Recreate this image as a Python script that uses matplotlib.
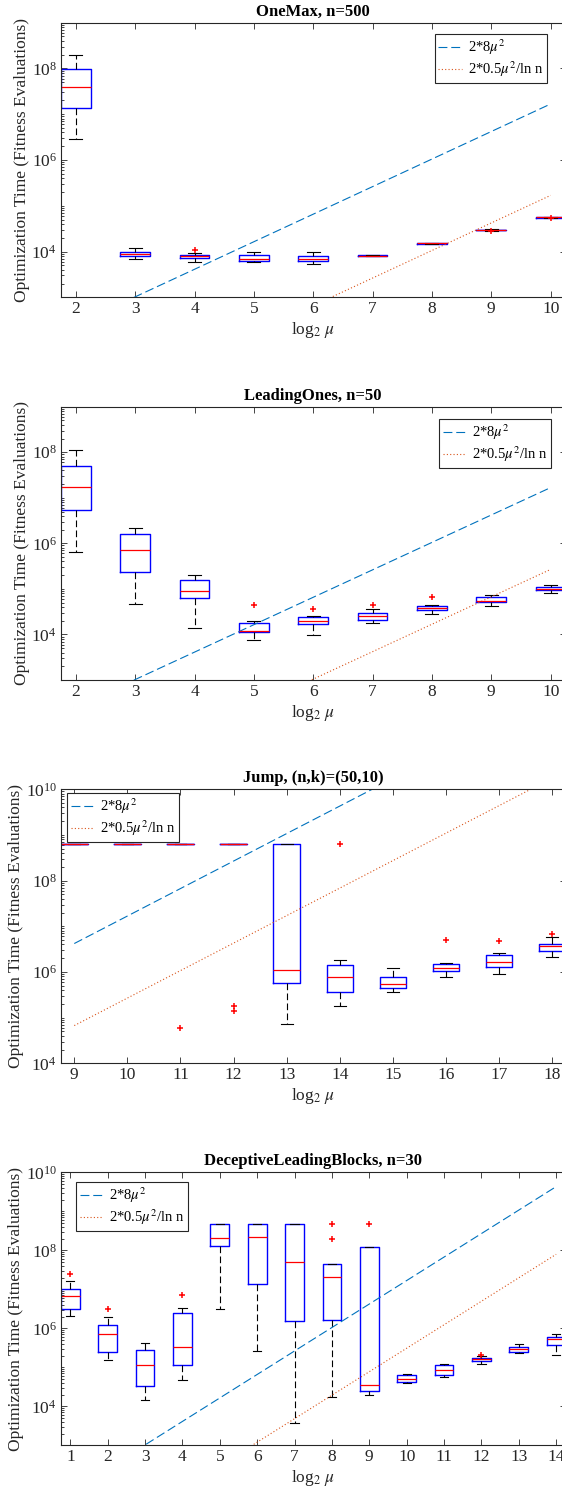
import matplotlib
matplotlib.use("Agg")
import matplotlib.pyplot as plt
from matplotlib.ticker import FixedLocator, LogLocator, NullFormatter

plt.rcParams['font.family'] = ['Liberation Serif', 'DejaVu Serif']
plt.rcParams['mathtext.fontset'] = 'stix'

# ---------------- OneMax, n=500 ----------------
om_x = [2, 3, 4, 5, 6, 7, 8, 9, 10]
om_lo = [2.9e6, 6.9e3, 5.8e3, 6.0e3, 5.4e3, 7.8e3, 1.45e4, 2.85e4, 5.45e4]
om_q1 = [1.37e7, 8.0e3, 7.1e3, 6.2e3, 6.3e3, 7.9e3, 1.48e4, 2.9e4, 5.5e4]
om_med = [4.0e7, 8.9e3, 7.8e3, 6.8e3, 7.0e3, 8.0e3, 1.5e4, 2.95e4, 5.6e4]
om_q3 = [9.7e7, 1.0e4, 8.6e3, 8.4e3, 8.0e3, 8.2e3, 1.53e4, 3.0e4, 5.7e4]
om_hi = [2.0e8, 1.18e4, 9.3e3, 9.8e3, 1.0e4, 8.6e3, 1.56e4, 3.05e4, 5.8e4]
om_fl = [[], [], [1.08e4], [], [], [], [], [2.75e4], [5.4e4]]
om_dash = [256, 1024, 4096, 16384, 65536, 262144, 1048576, 4194304, 16777216]
om_dot = [2.57, 10.3, 41.2, 164.8, 659, 2636, 10545, 42182, 168727]

# ---------------- LeadingOnes, n=50 ----------------
lo_x = [2, 3, 4, 5, 6, 7, 8, 9, 10]
lo_lo = [6.5e5, 4.6e4, 1.38e4, 7.4e3, 9.8e3, 1.8e4, 2.8e4, 4.2e4, 8.3e4]
lo_q1 = [5.4e6, 2.4e5, 6.3e4, 1.13e4, 1.7e4, 2.1e4, 3.4e4, 5.2e4, 9.4e4]
lo_med = [1.74e7, 7.2e5, 9.1e4, 1.2e4, 2.0e4, 2.5e4, 3.8e4, 5.5e4, 1.0e5]
lo_q3 = [5.1e7, 1.62e6, 1.6e5, 1.8e4, 2.4e4, 2.9e4, 4.3e4, 6.7e4, 1.08e5]
lo_hi = [1.12e8, 2.2e6, 2.0e5, 2.0e4, 2.5e4, 3.6e4, 4.5e4, 7.4e4, 1.2e5]
lo_fl = [[], [], [], [4.5e4], [3.6e4], [4.4e4], [6.5e4], [], []]
lo_dash = [256, 1024, 4096, 16384, 65536, 262144, 1048576, 4194304, 16777216]
lo_dot = [4.09, 16.4, 65.4, 261.8, 1047, 4188, 16754, 67015, 268060]

# ---------------- Jump, (n,k)=(50,10) ----------------
ju_x = [9, 10, 11, 12, 13, 14, 15, 16, 17, 18]
ju_lo = [6.4e8, 6.4e8, 6.4e8, 6.4e8, 7.2e4, 1.78e5, 3.6e5, 7.9e5, 9.1e5, 2.1e6]
ju_q1 = [6.4e8, 6.4e8, 6.4e8, 6.4e8, 5.8e5, 3.7e5, 4.4e5, 1.07e6, 1.3e6, 2.9e6]
ju_med = [6.4e8, 6.4e8, 6.4e8, 6.4e8, 1.1e6, 7.6e5, 5.5e5, 1.2e6, 1.66e6, 3.7e6]
ju_q3 = [6.4e8, 6.4e8, 6.4e8, 6.4e8, 6.4e8, 1.44e6, 7.9e5, 1.5e6, 2.3e6, 4.1e6]
ju_hi = [6.4e8, 6.4e8, 6.4e8, 6.4e8, 6.4e8, 1.83e6, 1.2e6, 1.6e6, 2.6e6, 5.8e6]
ju_fl = [[], [], [6.0e4], [1.4e5, 1.8e5], [], [6.3e8], [], [5.0e6], [4.7e6], [6.7e6]]
ju_dash = [4194304, 16777216, 67108864, 268435456, 1.074e9, 4.295e9,
           1.718e10, 6.872e10, 2.749e11, 1.1e12]
ju_dot = [67010, 268040, 1.072e6, 4.288e6, 1.715e7, 6.861e7, 2.744e8,
          1.098e9, 4.391e9, 1.756e10]

# ---------------- DeceptiveLeadingBlocks, n=30 ----------------
dl_x = [1, 2, 3, 4, 5, 6, 7, 8, 9, 10, 11, 12, 13, 14]
dl_lo = [2.1e6, 1.58e5, 1.48e4, 4.6e4, 3.2e6, 2.6e5, 3.8e3, 1.74e4, 2.0e4,
         4.0e4, 5.6e4, 1.24e5, 2.3e5, 2.1e5]
dl_q1 = [3.1e6, 2.5e5, 3.3e4, 1.15e5, 1.32e8, 1.4e7, 1.55e6, 1.6e6, 2.5e4,
         4.3e4, 6.3e4, 1.44e5, 2.5e5, 3.7e5]
dl_med = [6.8e6, 7.2e5, 1.15e5, 3.3e5, 2.1e8, 2.25e8, 4.9e7, 2.1e7, 3.5e4,
          5.0e4, 8.7e4, 1.6e5, 2.9e5, 5.2e5]
dl_q3 = [9.9e6, 1.2e6, 2.7e5, 2.4e6, 4.8e8, 4.8e8, 4.8e8, 4.5e7, 1.2e8,
         6.3e4, 1.15e5, 1.78e5, 3.25e5, 5.9e5]
dl_hi = [1.6e7, 2.0e6, 4.3e5, 3.3e6, 4.8e8, 4.8e8, 4.8e8, 4.5e7, 1.2e8,
         6.8e4, 1.24e5, 2.0e5, 3.9e5, 7.2e5]
dl_fl = [[2.5e7], [3.2e6], [], [7.1e6], [], [], [], [1.95e8, 4.8e8], [4.8e8],
         [], [], [2.1e5], [], []]
dl_dash = [64, 256, 1024, 4096, 16384, 65536, 262144, 1048576, 4194304,
           16777216, 67108864, 268435456, 1073741824, 4294967296]
dl_dot = [1.176, 4.704, 18.82, 75.27, 301.1, 1204, 4817, 19268, 77073,
          308290, 1.2332e6, 4.9327e6, 1.9731e7, 7.8924e7]

legend_labels = [r'2*8$\mu^2$', r'2*0.5$\mu^2$/ln n']
titles = ['OneMax, n=500', 'LeadingOnes, n=50', 'Jump, (n,k)=(50,10)',
          'DeceptiveLeadingBlocks, n=30']

fig = plt.figure(figsize=(5.62, 14.93), dpi=100)
H = 1493.0
W = 562.0
left_px = 61.0
width_px = 504.5
panel_px = [(22.7, 297.3), (406.7, 680.0), (789.3, 1063.3), (1172.3, 1445.3)]


def panel(idx, x, lo, q1, med, q3, hi, fl, dash, dot, ylim, yticks, legloc, anchor):
    top, bot = panel_px[idx]
    ax = fig.add_axes([left_px / W, 1 - bot / H, width_px / W, (bot - top) / H])
    stats = []
    for i in range(len(x)):
        stats.append(dict(whislo=lo[i], q1=q1[i], med=med[i], q3=q3[i],
                          whishi=hi[i], fliers=fl[i]))
    ax.bxp(stats, positions=x, widths=0.5, capwidths=0.22, manage_ticks=False,
           boxprops=dict(color='blue', lw=1.0),
           medianprops=dict(color='red', lw=0.9),
           whiskerprops=dict(color='black', lw=0.8, ls=(0, (6, 3))),
           capprops=dict(color='black', lw=0.8),
           flierprops=dict(marker='+', markeredgecolor='red', markersize=5,
                           markeredgewidth=1.1, linestyle='none'))
    l1, = ax.plot(x, dash, color=(0.0, 0.447, 0.741), lw=0.8, ls=(0, (8, 3.5)))
    l2, = ax.plot(x, dot, color=(0.85, 0.325, 0.098), lw=0.8, ls=(0, (1, 2)))
    ax.set_yscale('log')
    ax.set_ylim(*ylim)
    ax.set_xlim(x[0] - 0.25, x[-1] + 0.25)
    ax.set_xticks(x)
    ax.set_xticklabels([str(v) for v in x])
    ax.yaxis.set_major_locator(FixedLocator(yticks))
    ax.yaxis.set_minor_locator(LogLocator(base=10, subs=range(1, 10), numticks=50))
    ax.yaxis.set_minor_formatter(NullFormatter())
    ax.tick_params(which='both', direction='in', top=True, right=True,
                   width=0.6, colors='#262626', labelcolor='#262626', labelsize=12.5)
    ax.tick_params(which='major', length=4, pad=3)
    ax.tick_params(which='minor', length=2)
    for s in ax.spines.values():
        s.set_linewidth(0.8)
        s.set_color('#262626')
    ax.set_title(titles[idx], fontsize=12, fontweight='bold', pad=5)
    ax.set_xlabel(r'log$_2$ $\mu$', fontsize=12.5, color='#262626', labelpad=2)
    ax.set_ylabel('Optimization Time (Fitness Evaluations)', fontsize=12.5,
                  color='#262626', labelpad=1)
    leg = ax.legend([l1, l2], legend_labels, loc=legloc, bbox_to_anchor=anchor,
                    fontsize=10.5, fancybox=False, framealpha=1,
                    edgecolor='#262626', handlelength=1.6, handletextpad=0.4,
                    borderpad=0.25, labelspacing=0.15, borderaxespad=0)
    leg.get_frame().set_linewidth(0.8)
    return ax


panel(0, om_x, om_lo, om_q1, om_med, om_q3, om_hi, om_fl, om_dash, om_dot,
      (1e3, 1e9), [1e4, 1e6, 1e8], 'upper right', (0.963, 0.959))
panel(1, lo_x, lo_lo, lo_q1, lo_med, lo_q3, lo_hi, lo_fl, lo_dash, lo_dot,
      (1e3, 1e9), [1e4, 1e6, 1e8], 'upper right', (0.971, 0.955))
panel(2, ju_x, ju_lo, ju_q1, ju_med, ju_q3, ju_hi, ju_fl, ju_dash, ju_dot,
      (1e4, 1e10), [1e4, 1e6, 1e8, 1e10], 'upper left', (0.012, 0.9865))
panel(3, dl_x, dl_lo, dl_q1, dl_med, dl_q3, dl_hi, dl_fl, dl_dash, dl_dot,
      (1e3, 1e10), [1e4, 1e6, 1e8, 1e10], 'upper left', (0.030, 0.9645))

fig.savefig('out.png', dpi=100)
